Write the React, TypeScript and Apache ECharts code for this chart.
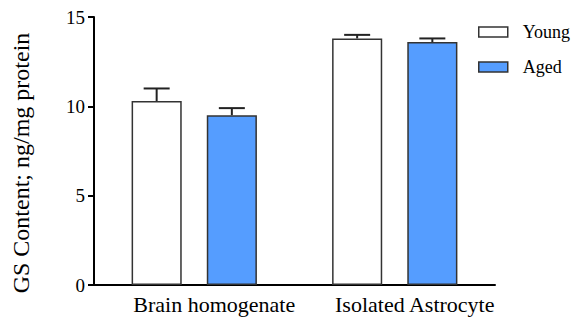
import React, { useEffect, useRef } from "react";
import * as echarts from "echarts";

const categories = ["Brain homogenate", "Isolated Astrocyte"];
const youngValues = [10.3, 13.8];
const youngErrors = [0.7, 0.2];
const agedValues = [9.5, 13.6];
const agedErrors = [0.4, 0.2];
const yTicks = { min: 0, max: 15, interval: 5 };

export default function App() {
  const ref = useRef<HTMLDivElement>(null);
  useEffect(() => {
    if (!ref.current) return;
    document.body.style.margin = "0";
    const chart = echarts.init(ref.current, null, { renderer: "svg" });
    const font = "Liberation Serif, Times New Roman, serif";

    const errSeries = (vals: number[], errs: number[], sign: number, name: string) => ({
      type: "custom",
      name: name + " error",
      data: vals.map((v, i) => [i, v, errs[i]]),
      z: 1,
      silent: true,
      renderItem: (params: any, api: any) => {
        const i = api.value(0);
        const v = api.value(1);
        const e = api.value(2);
        const catW = api.size([1, 0])[0];
        const off = catW * 0.1875 * sign;
        const base = api.coord([i, v]);
        const top = api.coord([i, v + e]);
        const x = base[0] + off;
        const half = 13;
        const st = { stroke: "#222", lineWidth: 2 };
        return {
          type: "group",
          children: [
            { type: "line", shape: { x1: x, y1: base[1], x2: x, y2: top[1] }, style: st },
            { type: "line", shape: { x1: x - half, y1: top[1], x2: x + half, y2: top[1] }, style: st },
          ],
        };
      },
    });

    chart.setOption({
      animation: false,
      textStyle: { fontFamily: font, color: "#000" },
      grid: { left: 94, right: 78, top: 17, bottom: 35, containLabel: false },
      legend: {
        orient: "vertical",
        left: 478,
        top: 22,
        padding: 0,
        itemWidth: 29,
        itemHeight: 10,
        itemGap: 15,
        icon: "rect",
        data: ["Young", "Aged"],
        itemStyle: { borderColor: "#333", borderWidth: 1.5 },
        textStyle: { fontFamily: font, fontSize: 18, color: "#000", lineHeight: 20, padding: [0, 0, 0, 10] },
      },
      xAxis: {
        type: "category",
        data: categories,
        axisLine: { lineStyle: { color: "#000", width: 2 } },
        axisTick: { alignWithLabel: true, length: 6, lineStyle: { color: "#000", width: 2 } },
        axisLabel: {
          fontFamily: font,
          fontSize: 22,
          color: "#000",
          margin: 8,
          interval: 0,
          hideOverlap: false,
          padding: [0, 0, 0, 40],
        },
      },
      yAxis: {
        type: "value",
        min: yTicks.min,
        max: yTicks.max,
        interval: yTicks.interval,
        name: "GS Content; ng/mg protein",
        nameLocation: "middle",
        nameRotate: 90,
        nameGap: 61,
        nameTextStyle: { fontFamily: font, fontSize: 24, color: "#000", padding: [0, 24, 0, 0] },
        splitLine: { show: false },
        axisLine: { show: true, lineStyle: { color: "#000", width: 2 } },
        axisTick: { show: true, length: 6, lineStyle: { color: "#000", width: 2 } },
        axisLabel: { fontFamily: font, fontSize: 19, color: "#000", margin: 9 },
      },
      series: [
        {
          name: "Young",
          type: "bar",
          data: youngValues,
          barWidth: "25%",
          barGap: "50%",
          z: 2,
          itemStyle: { color: "#ffffff", borderColor: "#333", borderWidth: 1.5 },
        },
        {
          name: "Aged",
          type: "bar",
          data: agedValues,
          barWidth: "25%",
          barGap: "50%",
          z: 2,
          itemStyle: { color: "#559dff", borderColor: "#333", borderWidth: 1.5 },
        },
        errSeries(youngValues, youngErrors, -1, "Young"),
        errSeries(agedValues, agedErrors, 1, "Aged"),
      ],
    });
    return () => chart.dispose();
  }, []);
  return <div ref={ref} style={{ width: 573, height: 320 }} />;
}
